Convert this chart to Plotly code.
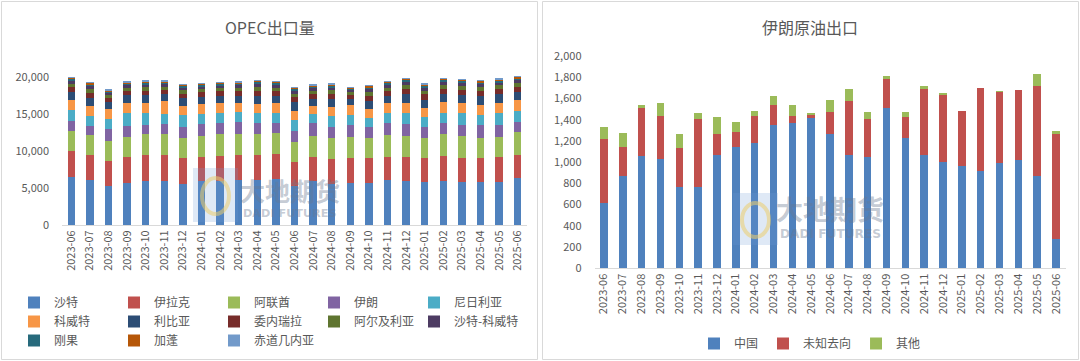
import plotly.graph_objects as go

W, H = 1080, 361

months = ["2023-06", "2023-07", "2023-08", "2023-09", "2023-10", "2023-11", "2023-12",
          "2024-01", "2024-02", "2024-03", "2024-04", "2024-05", "2024-06", "2024-07",
          "2024-08", "2024-09", "2024-10", "2024-11", "2024-12", "2025-01", "2025-02",
          "2025-03", "2025-04", "2025-05", "2025-06"]

# OPEC exports (kb/d)
saudi = [6520, 6030, 5270, 5720, 5940, 5940, 5490, 5880, 6000, 6100, 6100, 6200, 5300,
         5900, 5600, 5700, 5700, 6080, 5990, 5850, 5990, 5850, 5850, 5850, 6300]
iraq = [3470, 3375, 3370, 3460, 3510, 3510, 3510, 3300, 3315, 3305, 3305, 3340, 3250,
        3325, 3265, 3300, 3300, 3145, 3235, 3240, 3370, 3150, 3240, 3285, 3150]
uae = [2700, 2700, 2700, 2700, 2790, 2790, 2790, 2835, 2925, 2835, 2835, 2835, 2700,
       2790, 2835, 2835, 2700, 2925, 2790, 2610, 2925, 3015, 2700, 2700, 3150]
iran = [1350, 1260, 1575, 1485, 1260, 1440, 1440, 1575, 1575, 1710, 1575, 1350, 1485,
        1710, 1575, 1665, 1575, 1665, 1620, 1575, 1440, 1485, 1710, 1665, 1350]
nigeria = [1440, 1350, 1440, 1800, 1665, 1350, 1575, 1350, 1350, 1305, 1350, 1350, 1440,
           1260, 1440, 1350, 1215, 1260, 1530, 1350, 1440, 1575, 1350, 1665, 1485]
kuwait = [1395, 1350, 1350, 1350, 1260, 1710, 1260, 1350, 1260, 1170, 1125, 1350, 1260,
          1080, 1260, 1350, 1170, 1350, 1350, 1125, 1395, 1350, 1350, 1350, 1440]
libya = [1080, 1130, 900, 1000, 1080, 970, 1050, 1000, 1010, 1040, 1170, 1050, 1130,
         1020, 1100, 850, 1130, 1050, 1180, 1180, 1170, 1160, 1180, 1150, 1130]
venezuela = [670, 700, 560, 620, 670, 600, 650, 620, 610, 640, 710, 650, 700,
             630, 680, 530, 700, 650, 730, 730, 710, 720, 730, 710, 700]
algeria = [450, 470, 380, 420, 450, 400, 440, 420, 420, 430, 490, 440, 470,
           425, 460, 360, 470, 440, 490, 490, 490, 490, 490, 480, 470]
saudi_kuwait = [370, 380, 300, 340, 370, 330, 350, 340, 340, 350, 390, 350, 380,
                340, 370, 290, 380, 350, 400, 400, 390, 390, 400, 380, 380]
congo = [250, 260, 210, 230, 250, 220, 240, 230, 230, 240, 270, 240, 260,
         235, 250, 200, 260, 240, 270, 270, 270, 270, 270, 265, 260]
gabon = [150, 160, 130, 140, 150, 135, 150, 140, 140, 140, 160, 150, 160,
         140, 150, 120, 160, 150, 165, 165, 160, 160, 165, 160, 160]
eq_guinea = [45, 50, 40, 40, 45, 45, 45, 40, 40, 40, 50, 45, 50,
             45, 50, 35, 50, 45, 50, 50, 50, 50, 50, 50, 50]

# Iran crude exports
china = [612, 873, 1058, 1027, 769, 769, 1067, 1146, 1177, 1350, 1366, 1416, 1265,
         1067, 1046, 1513, 1225, 1067, 1005, 967, 920, 989, 1020, 873, 273]
unknown = [603, 273, 449, 411, 361, 638, 198, 141, 258, 188, 69, 30, 211,
           509, 364, 267, 197, 622, 628, 515, 782, 675, 660, 847, 992]
other = [119, 126, 31, 122, 135, 53, 164, 94, 47, 88, 100, 8, 110,
         113, 66, 35, 51, 31, 15, 0, 0, 6, 0, 110, 32]

left_names = ["沙特", "伊拉克", "阿联酋", "伊朗", "尼日利亚", "科威特", "利比亚", "委内瑞拉",
              "阿尔及利亚", "沙特-科威特", "刚果", "加蓬", "赤道几内亚"]
left_values = [saudi, iraq, uae, iran, nigeria, kuwait, libya, venezuela, algeria,
               saudi_kuwait, congo, gabon, eq_guinea]
left_colors = ["#4F81BD", "#C0504D", "#9BBB59", "#8064A2", "#4BACC6", "#F79646",
               "#2C4D75", "#772C2A", "#5F7530", "#4D3B62", "#276A7C", "#B65708", "#729ACA"]

right_names = ["中国", "未知去向", "其他"]
right_values = [china, unknown, other]
right_colors = ["#4F81BD", "#C0504D", "#9BBB59"]

FONT = "Noto Sans CJK SC, Noto Sans, sans-serif"
TXT = "#595959"


def px(x):
    return x / W


def py(y):
    return 1 - y / H


fig = go.Figure()
for i, (n, v, c) in enumerate(zip(left_names, left_values, left_colors)):
    fig.add_trace(go.Bar(x=months, y=v, name=n, marker=dict(color=c, line=dict(width=0)),
                         xaxis="x", yaxis="y", legend="legend",
                         legendwidth=80 if i % 5 == 4 else None,
                         legendgroup="col%d" % (i % 5)))
for n, v, c in zip(right_names, right_values, right_colors):
    fig.add_trace(go.Bar(x=months, y=v, name=n, marker=dict(color=c, line=dict(width=0)),
                         xaxis="x2", yaxis="y2", legend="legend2"))

axis_common = dict(showgrid=False, zeroline=False, ticks="",
                   tickfont=dict(family=FONT, size=11, color=TXT))

fig.update_layout(
    width=W, height=H,
    margin=dict(l=0, r=0, t=0, b=0, autoexpand=False),
    paper_bgcolor="white", plot_bgcolor="white",
    barmode="stack", bargap=0.6,
    font=dict(family=FONT, color=TXT),
    showlegend=True,
    xaxis=dict(domain=[px(62), px(527)], anchor="y", type="category", tickangle=-90,
               showline=True, linecolor="#D9D9D9", linewidth=1, **axis_common),
    yaxis=dict(domain=[py(225), py(73.3)], anchor="x", range=[0, 20500],
               tickvals=[0, 5000, 10000, 15000, 20000], tickformat=",",
               showline=False, ticklabelstandoff=12, **axis_common),
    xaxis2=dict(domain=[px(594.5), px(1065.5)], anchor="y2", type="category", tickangle=-90,
                showline=True, linecolor="#D9D9D9", linewidth=1, **axis_common),
    yaxis2=dict(domain=[py(268.3), py(56)], anchor="x2", range=[0, 2000], dtick=200,
                tickformat=",", showline=False, ticklabelstandoff=12, **axis_common),
    legend=dict(orientation="h", traceorder="grouped", x=px(14), xanchor="left",
                y=py(288), yanchor="top", entrywidth=55, itemwidth=30,
                font=dict(family=FONT, size=12, color=TXT), bgcolor="rgba(0,0,0,0)"),
    legend2=dict(orientation="h", traceorder="normal", x=px(810), xanchor="center",
                 y=py(329), yanchor="top", itemwidth=30,
                 font=dict(family=FONT, size=12, color=TXT), bgcolor="rgba(0,0,0,0)"),
)

# chart titles
fig.add_annotation(text="OPEC出口量", x=px(270), y=py(27), xref="paper", yref="paper",
                   xanchor="center", yanchor="middle",
                   showarrow=False, font=dict(family=FONT, size=16, color=TXT))
fig.add_annotation(text="伊朗原油出口", x=px(810), y=py(27), xref="paper", yref="paper",
                   xanchor="center", yanchor="middle",
                   showarrow=False, font=dict(family=FONT, size=16, color=TXT))

# watermarks (logo block + text)
wm = "rgba(105,120,145,0.40)"
for lx0, lx1, ly0, ly1, tx, ty, s in [(193, 238, 168, 222, 290, 190, 25),
                                      (733, 778, 193, 245, 830, 208, 27)]:
    fig.add_shape(type="rect", xref="paper", yref="paper", x0=px(lx0), x1=px(lx1),
                  y0=py(ly1), y1=py(ly0), line=dict(width=0),
                  fillcolor="rgba(110,155,215,0.22)", layer="above")
    fig.add_shape(type="circle", xref="paper", yref="paper", x0=px(lx0 + 9), x1=px(lx1 - 9),
                  y0=py(ly1 - 8), y1=py(ly0 + 10),
                  line=dict(color="rgba(235,205,110,0.55)", width=4), layer="above")
    fig.add_annotation(text="<b>大地期货</b>", x=px(tx), y=py(ty), xref="paper", yref="paper",
                       xanchor="center", yanchor="middle",
                       showarrow=False, font=dict(family=FONT, size=s, color=wm))
    fig.add_annotation(text="<b>DADI FUTURES</b>", x=px(tx), y=py(ty + s * 0.95),
                       xref="paper", yref="paper", xanchor="center", yanchor="middle",
                       showarrow=False,
                       font=dict(family="DejaVu Sans", size=s * 0.45, color=wm))

# panel borders
fig.add_shape(type="rect", xref="paper", yref="paper", x0=px(1.5), x1=px(537.5),
              y0=py(359.5), y1=py(1.5), line=dict(color="#D9D9D9", width=1))
fig.add_shape(type="rect", xref="paper", yref="paper", x0=px(542.5), x1=px(1078.5),
              y0=py(359.5), y1=py(1.5), line=dict(color="#D9D9D9", width=1))

fig.write_html("out.html", config={"displayModeBar": False},
               post_script="document.body.style.margin='0px';")
